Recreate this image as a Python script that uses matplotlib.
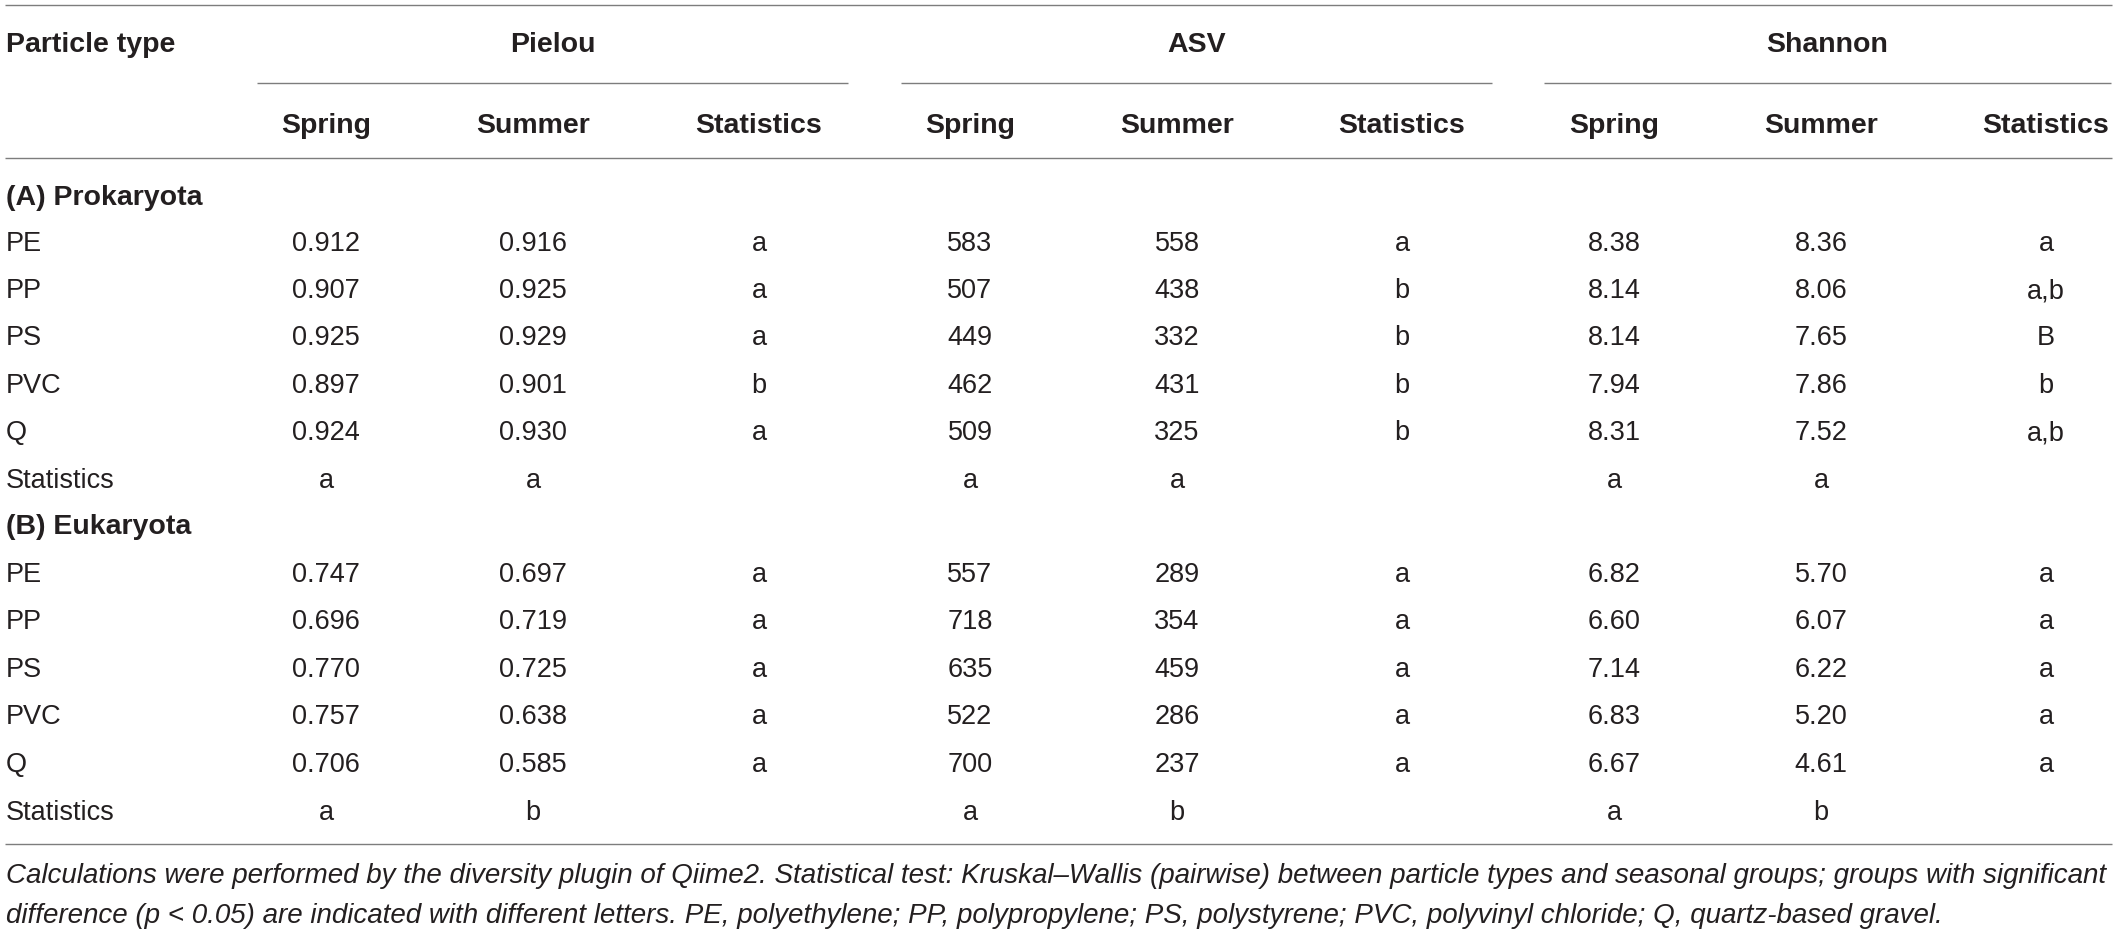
import matplotlib
matplotlib.use("Agg")
import matplotlib.pyplot as plt
from matplotlib import font_manager as fm

# ---------------- data ----------------
particle_types = ["PE", "PP", "PS", "PVC", "Q"]
stat_row_label = "Statistics"
metrics = ["Pielou", "ASV", "Shannon"]
sub_headers = ["Spring", "Summer", "Statistics"]
section_titles = ["(A) Prokaryota", "(B) Eukaryota"]

# (A) Prokaryota
pro_pielou_spring = [0.912, 0.907, 0.925, 0.897, 0.924]
pro_pielou_summer = [0.916, 0.925, 0.929, 0.901, 0.930]
pro_pielou_stats = ["a", "a", "a", "b", "a"]
pro_pielou_season = ["a", "a"]
pro_asv_spring = [583, 507, 449, 462, 509]
pro_asv_summer = [558, 438, 332, 431, 325]
pro_asv_stats = ["a", "b", "b", "b", "b"]
pro_asv_season = ["a", "a"]
pro_shannon_spring = [8.38, 8.14, 8.14, 7.94, 8.31]
pro_shannon_summer = [8.36, 8.06, 7.65, 7.86, 7.52]
pro_shannon_stats = ["a", "a,b", "B", "b", "a,b"]
pro_shannon_season = ["a", "a"]

# (B) Eukaryota
euk_pielou_spring = [0.747, 0.696, 0.770, 0.757, 0.706]
euk_pielou_summer = [0.697, 0.719, 0.725, 0.638, 0.585]
euk_pielou_stats = ["a", "a", "a", "a", "a"]
euk_pielou_season = ["a", "b"]
euk_asv_spring = [557, 718, 635, 522, 700]
euk_asv_summer = [289, 354, 459, 286, 237]
euk_asv_stats = ["a", "a", "a", "a", "a"]
euk_asv_season = ["a", "b"]
euk_shannon_spring = [6.82, 6.60, 7.14, 6.83, 6.67]
euk_shannon_summer = [5.70, 6.07, 6.22, 5.20, 4.61]
euk_shannon_stats = ["a", "a", "a", "a", "a"]
euk_shannon_season = ["a", "b"]

footnote_lines = [
    "Calculations were performed by the diversity plugin of Qiime2. Statistical test: Kruskal\u2013Wallis (pairwise) "
    "between particle types and seasonal groups; groups with significant",
    "difference (p < 0.05) are indicated with different letters. PE, polyethylene; PP, polypropylene; "
    "PS, polystyrene; PVC, polyvinyl chloride; Q, quartz-based gravel.",
]

# ---------------- styling / layout ----------------
W, H = 2117, 931
TEXT = "#231f20"
RULE = "#7d7d7d"

names = {f.name for f in fm.fontManager.ttflist}
FAMILY = "Liberation Sans" if "Liberation Sans" in names else "DejaVu Sans"

fig = plt.figure(figsize=(W / 100, H / 100), dpi=100)
ax = fig.add_axes([0, 0, 1, 1])
ax.set_xlim(0, W)
ax.set_ylim(H, 0)
ax.axis("off")

BODY = 19.5
BOLD = 20.5
CAP = 10  # half cap height in px, baseline offset from visual centre

def put(x, y, s, bold=False, ha="center", italic=False, size=None):
    return ax.text(x, y + CAP, s, ha=ha, va="baseline", color=TEXT,
                   family=FAMILY, fontweight="bold" if bold else "normal",
                   fontstyle="italic" if italic else "normal",
                   fontsize=size if size else (BOLD if bold else BODY))

def hline(x0, x1, y):
    ax.plot([x0, x1], [y, y], color=RULE, lw=1.0, solid_capstyle="butt")

col_x = [[326, 533, 759], [970, 1177, 1402], [1614, 1821, 2046]]
group_span = [(257, 848), (901, 1492), (1544, 2111)]
LEFT = 6

y_top, y_head, y_sub_rule, y_sub, y_rule = 5, 42, 83, 123, 158
sec_y = [195, 524]
row_y = [[241, 288, 335, 383, 430, 478], [572, 619, 667, 714, 762, 810]]
y_bottom = 844
foot_y = [873, 913]

hline(5, W - 5, y_top)
put(LEFT, y_head, "Particle type", bold=True, ha="left")
for g, m in enumerate(metrics):
    x0, x1 = group_span[g]
    put((x0 + x1) / 2, y_head, m, bold=True)
    hline(x0, x1, y_sub_rule)
    for c, sh in enumerate(sub_headers):
        put(col_x[g][c], y_sub, sh, bold=True)
hline(5, W - 5, y_rule)

sections = [
    [(pro_pielou_spring, pro_pielou_summer, pro_pielou_stats, pro_pielou_season, "{:.3f}"),
     (pro_asv_spring, pro_asv_summer, pro_asv_stats, pro_asv_season, "{:d}"),
     (pro_shannon_spring, pro_shannon_summer, pro_shannon_stats, pro_shannon_season, "{:.2f}")],
    [(euk_pielou_spring, euk_pielou_summer, euk_pielou_stats, euk_pielou_season, "{:.3f}"),
     (euk_asv_spring, euk_asv_summer, euk_asv_stats, euk_asv_season, "{:d}"),
     (euk_shannon_spring, euk_shannon_summer, euk_shannon_stats, euk_shannon_season, "{:.2f}")],
]

for s, sec in enumerate(sections):
    put(LEFT, sec_y[s], section_titles[s], bold=True, ha="left")
    for r, pt in enumerate(particle_types):
        put(LEFT, row_y[s][r], pt, ha="left")
    put(LEFT, row_y[s][5], stat_row_label, ha="left")
    for g, (spring, summer, stats, season, fmt) in enumerate(sec):
        for r in range(len(particle_types)):
            put(col_x[g][0], row_y[s][r], fmt.format(spring[r]))
            put(col_x[g][1], row_y[s][r], fmt.format(summer[r]))
            put(col_x[g][2], row_y[s][r], stats[r])
        put(col_x[g][0], row_y[s][5], season[0])
        put(col_x[g][1], row_y[s][5], season[1])

hline(5, W - 5, y_bottom)

# footnote, fitted to the reference line width
foot_texts = [put(LEFT, foot_y[i], line, ha="left", italic=True, size=19)
              for i, line in enumerate(footnote_lines)]
fig.canvas.draw()
r = fig.canvas.get_renderer()
w = foot_texts[0].get_window_extent(r).width
new = 19 * 2104 / w
for t in foot_texts:
    t.set_fontsize(new)

fig.savefig("out.png", dpi=100, facecolor="white")
